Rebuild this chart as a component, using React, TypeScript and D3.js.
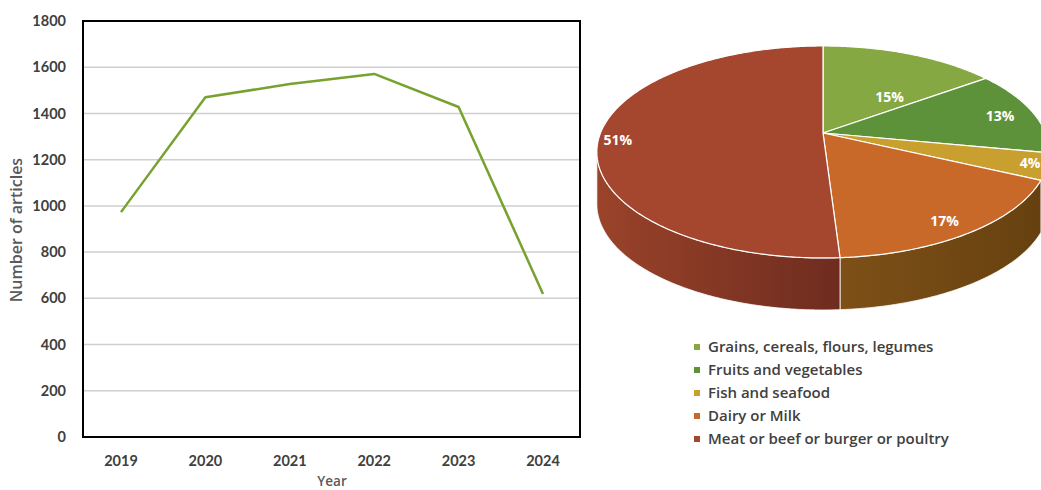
import React from "react";
import * as d3 from "d3";

const years = ["2019", "2020", "2021", "2022", "2023", "2024"];
const articles = [973, 1470, 1527, 1571, 1428, 619];
const yTicks = [0, 200, 400, 600, 800, 1000, 1200, 1400, 1600, 1800];

const categories = [
  "Grains, cereals, flours, legumes",
  "Fruits and vegetables",
  "Fish and seafood",
  "Dairy or Milk",
  "Meat or beef or burger or poultry",
];
const shares = [15, 13, 4, 17, 51];
const topColors = ["#86A843", "#5E923A", "#C9A030", "#C8692A", "#A4472E"];
const sideLight = ["#6E8A35", "#4C782F", "#A88526", "#7E5018", "#9A432A"];
const sideDark = ["#5A722B", "#3E6326", "#8A6D1F", "#66410F", "#6E2C1F"];
// label nudges (layout only)
const labelNudge = [
  [3, 22],
  [29, -2],
  [53, 7],
  [24, 22],
  [-49, 5],
];

const FONT = "Lato, 'Open Sans', sans-serif";
const FONT2 = "'Open Sans', sans-serif";
const TXT = "#404040";

export default function App() {
  // line chart geometry
  const plot = { left: 83, right: 580, top: 21, bottom: 437 };
  const x = d3.scalePoint<string>().domain(years).range([121, 543]);
  const y = d3.scaleLinear().domain([0, 1800]).range([plot.bottom, plot.top]);
  const line = d3
    .line<number>()
    .x((_, i) => x(years[i]) as number)
    .y((d) => y(d));

  // 3D pie with simple perspective projection
  const X0 = 823, Y0 = 133, S = 222.5, T = 102.6, P = 0.179, depth = 52;
  const proj = (a: number, r = 1, dy = 0): [number, number] => {
    const u = r * Math.sin(a);
    const w = r * Math.cos(a);
    const den = 1 + P * w;
    return [X0 + (S * u) / den, Y0 - (T * w) / den + dy];
  };
  const sample = (a0: number, a1: number, dy = 0) => {
    const n = Math.max(2, Math.ceil(Math.abs(a1 - a0) / 0.01));
    return d3.range(n + 1).map((k) => proj(a0 + ((a1 - a0) * k) / n, 1, dy));
  };
  const pts = (arr: [number, number][]) => arr.map((p) => `${p[0].toFixed(2)},${p[1].toFixed(2)}`).join(" L");

  const arcs = d3.pie<number>().sort(null).startAngle(0).endAngle(2 * Math.PI)(shares);
  const silL = Math.PI - Math.acos(P);
  const silR = Math.PI + Math.acos(P);

  const sides = arcs.map((a, i) => {
    const s = Math.max(a.startAngle, silL);
    const e = Math.min(a.endAngle, silR);
    if (e <= s) return null;
    const top = sample(s, e);
    const bot = sample(e, s, depth);
    const xs = top.map((p) => p[0]);
    return { d: `M${pts(top)} L${pts(bot)} Z`, i, xmin: d3.min(xs) as number, xmax: d3.max(xs) as number };
  });

  const tops = arcs.map((a) => `M${X0},${Y0} L${pts(sample(a.startAngle, a.endAngle))} Z`);

  const labels = arcs.map((a, i) => {
    const m = (a.startAngle + a.endAngle) / 2;
    const [px, py] = proj(m, 0.7);
    return [px + labelNudge[i][0], py + labelNudge[i][1]];
  });

  return (
    <svg width={1041} height={490} style={{ position: "absolute", left: 0, top: 0, background: "#fff" }} fontFamily={FONT}>
      <defs>
        {sides.map((s, i) =>
          s ? (
            <linearGradient key={i} id={`sg${i}`} gradientUnits="userSpaceOnUse" x1={s.xmin} x2={s.xmax} y1={0} y2={0}>
              <stop offset="0" stopColor={sideLight[i]} />
              <stop offset="1" stopColor={sideDark[i]} />
            </linearGradient>
          ) : null
        )}
      </defs>

      {/* gridlines */}
      {yTicks.map((t) => (
        <line key={t} x1={plot.left} x2={plot.right} y1={y(t)} y2={y(t)} stroke="#CFCFCF" strokeWidth={1.5} />
      ))}
      <rect x={plot.left} y={plot.top} width={plot.right - plot.left} height={plot.bottom - plot.top} fill="none" stroke="#000" strokeWidth={2} />
      <path d={line(articles) || ""} fill="none" stroke="#77A22F" strokeWidth={2.5} strokeLinejoin="round" />

      {yTicks.map((t) => (
        <text key={t} x={66} y={y(t)} dy="0.35em" textAnchor="end" fontSize={14.5} fontWeight="bold" fill={TXT}>
          {t}
        </text>
      ))}
      {years.map((yr) => (
        <text key={yr} x={x(yr)} y={466} textAnchor="middle" fontSize={14.5} fontWeight="bold" fill={TXT}>
          {yr}
        </text>
      ))}
      <text transform="translate(22,230) rotate(-90)" textAnchor="middle" fontFamily={FONT2} fontSize={16} fontWeight={600} fill="#595959">
        Number of articles
      </text>
      <text x={332} y={486} textAnchor="middle" fontFamily={FONT2} fontSize={13.5} fontWeight={600} fill="#595959">
        Year
      </text>

      {/* pie sides */}
      {sides.map((s) =>
        s ? <path key={s.i} d={s.d} fill={`url(#sg${s.i})`} stroke="#fff" strokeWidth={0.8} strokeLinejoin="round" /> : null
      )}
      {/* pie tops */}
      {tops.map((d, i) => (
        <path key={i} d={d} fill={topColors[i]} stroke="#fff" strokeWidth={1.2} strokeLinejoin="round" />
      ))}
      {arcs.map((a, i) => (
        <text key={i} x={labels[i][0]} y={labels[i][1]} dy="0.35em" textAnchor="middle" fontFamily={FONT2} fontSize={14} fontWeight="bold" fill="#fff">
          {`${shares[i]}%`}
        </text>
      ))}

      {/* legend */}
      {categories.map((c, i) => (
        <g key={c} transform={`translate(697,${347 + i * 23})`}>
          <rect x={-3} y={-3} width={6} height={6} fill={topColors[i]} />
          <text x={11} y={0} dy="0.35em" fontFamily={FONT2} fontSize={15} fontWeight={600} fill={TXT}>
            {c}
          </text>
        </g>
      ))}
    </svg>
  );
}
